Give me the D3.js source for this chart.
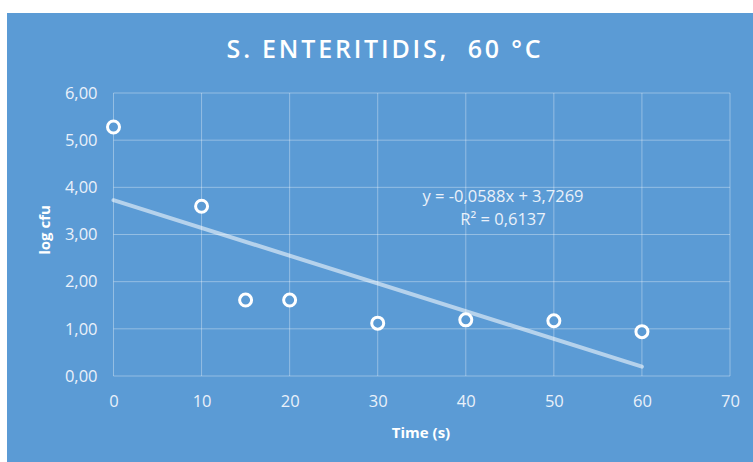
<!DOCTYPE html>
<html><head><meta charset="utf-8">
<script src="https://cdn.jsdelivr.net/npm/d3@7"></script>
<style>
html,body{margin:0;padding:0;background:#fff;}
svg{display:block;}
</style></head>
<body>
<svg id="c" width="753" height="462"></svg>
<script>
const timeValues = [0, 10, 15, 20, 30, 40, 50, 60];
const logCfu = [5.28, 3.60, 1.61, 1.61, 1.12, 1.19, 1.17, 0.94];
const xTicks = [0, 10, 20, 30, 40, 50, 60, 70];
const yTicks = [0, 1, 2, 3, 4, 5, 6];
const trendSlope = -0.0588;
const trendIntercept = 3.7269;
const trendRange = [0, 60];
const titleText = "S. ENTERITIDIS,  60 °C";
const eqText = ["y = -0,0588x + 3,7269", "R² = 0,6137"];

const svg = d3.select("#c");
const bg = "#5B9BD5";
const font = "'Open Sans', sans-serif";
svg.append("rect").attr("x", 7).attr("y", 13).attr("width", 746).attr("height", 449).attr("fill", bg);

const x = d3.scaleLinear().domain([0, 70]).range([113.5, 730]);
const y = d3.scaleLinear().domain([0, 6]).range([376, 93]);

const fmt = d => d3.format(".2f")(d).replace(".", ",");
const grid = "rgba(255,255,255,0.35)";

// gridlines
svg.append("g").selectAll("line").data(yTicks).join("line")
  .attr("x1", x(0)).attr("x2", x(70)).attr("y1", d => y(d)).attr("y2", d => y(d))
  .attr("stroke", grid).attr("stroke-width", 1);
svg.append("g").selectAll("line").data(xTicks).join("line")
  .attr("y1", y(0)).attr("y2", y(6)).attr("x1", d => x(d)).attr("x2", d => x(d))
  .attr("stroke", grid).attr("stroke-width", 1);

// axes labels via d3 axes
const yAxis = svg.append("g").attr("transform", `translate(${x(0)},0)`)
  .call(d3.axisLeft(y).tickValues(yTicks).tickFormat(fmt).tickSize(0).tickPadding(16));
const xAxis = svg.append("g").attr("transform", `translate(0,${y(0)})`)
  .call(d3.axisBottom(x).tickValues(xTicks).tickFormat(d3.format("d")).tickSize(0).tickPadding(19));
[yAxis, xAxis].forEach(a => {
  a.select(".domain").remove();
  a.selectAll("text").attr("fill", "#EAF1FA").style("font-family", font).style("font-size", "16.5px");
});

// trendline
svg.append("line")
  .attr("x1", x(trendRange[0])).attr("y1", y(trendSlope * trendRange[0] + trendIntercept))
  .attr("x2", x(trendRange[1])).attr("y2", y(trendSlope * trendRange[1] + trendIntercept))
  .attr("stroke", "rgba(255,255,255,0.55)").attr("stroke-width", 4).attr("stroke-linecap", "round");

// points
svg.append("g").selectAll("circle").data(timeValues.map((t, i) => [t, logCfu[i]])).join("circle")
  .attr("cx", d => x(d[0])).attr("cy", d => y(d[1])).attr("r", 6)
  .attr("fill", bg).attr("stroke", "#fff").attr("stroke-width", 3);

// equation
svg.append("g").selectAll("text").data(eqText).join("text")
  .attr("x", 503).attr("y", (d, i) => 202 + i * 23)
  .attr("text-anchor", "middle").attr("fill", "#EAF1FA")
  .style("font-family", font).style("font-size", "16.5px").text(d => d);

// title
svg.append("text").attr("x", 385).attr("y", 58).attr("text-anchor", "middle")
  .attr("fill", "#fff").style("font-family", font).style("font-size", "25px")
  .style("font-weight", "600").style("letter-spacing", "2.8px").style("white-space", "pre").text(titleText);

// axis titles
svg.append("text").attr("x", 421).attr("y", 438).attr("text-anchor", "middle")
  .attr("fill", "#fff").style("font-family", font).style("font-size", "15px").style("font-weight", "bold")
  .text("Time (s)");
svg.append("text").attr("transform", "translate(50,230) rotate(-90)").attr("text-anchor", "middle")
  .attr("fill", "#fff").style("font-family", font).style("font-size", "15px").style("font-weight", "bold")
  .text("log cfu");
</script>
</body></html>
